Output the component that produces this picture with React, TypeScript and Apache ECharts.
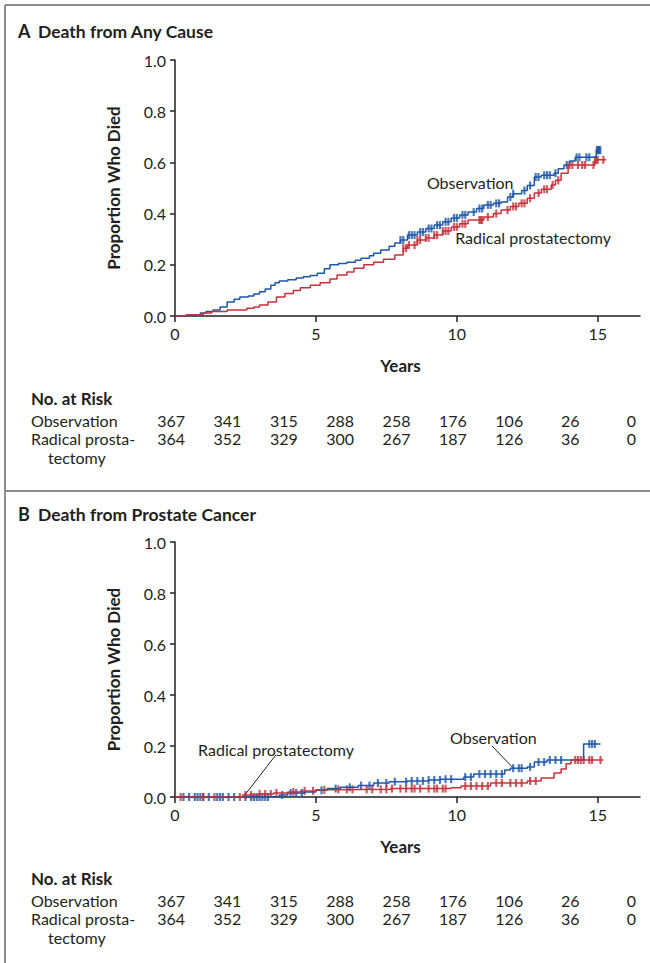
import React, { useEffect, useRef } from 'react';
import * as echarts from 'echarts';

const FONT = 'Lato, "Open Sans", sans-serif';
const BLUE = '#1d58a8';
const RED = '#c6313b';
const INK = '#231f20';
const BORDER = '#8c8c8c';

const xTickValues = [0, 5, 10, 15];
const riskYears = [0, 2, 4, 6, 8, 10, 12, 14, 16];
const riskObs = [367, 341, 315, 288, 258, 176, 106, 26, 0];
const riskRad = [364, 352, 329, 300, 267, 187, 126, 36, 0];

// Panel A: death from any cause
const obsA_t = [0, 0.6, 0.9, 1.1, 1.35, 1.6, 1.85, 2.1, 2.3, 2.6, 2.8, 3.0, 3.2, 3.4, 3.55, 3.7, 4.0, 4.3, 4.55, 4.8, 5.05, 5.3, 5.5, 5.8, 6.1, 6.4, 6.6, 6.9, 7.05, 7.3, 7.6, 7.8, 8.0, 8.25, 8.6, 8.9, 9.2, 9.5, 9.8, 10.1, 10.4, 10.7, 10.96, 11.3, 11.57, 11.8, 12.0, 12.3, 12.5, 12.75, 13.0, 13.45, 13.6, 13.8, 14.0, 14.2, 14.95];
const obsA_y = [0, 0.005, 0.012, 0.018, 0.023, 0.035, 0.055, 0.065, 0.074, 0.078, 0.086, 0.095, 0.105, 0.12, 0.13, 0.137, 0.142, 0.148, 0.153, 0.158, 0.167, 0.185, 0.2, 0.205, 0.21, 0.218, 0.226, 0.235, 0.245, 0.258, 0.272, 0.285, 0.297, 0.316, 0.328, 0.342, 0.355, 0.368, 0.383, 0.395, 0.406, 0.42, 0.434, 0.44, 0.445, 0.465, 0.478, 0.49, 0.51, 0.543, 0.55, 0.558, 0.575, 0.59, 0.605, 0.62, 0.648];
const obsA_end = 15.1;
const obsA_cens = [8.0, 8.1, 8.3, 8.4, 8.5, 8.7, 8.8, 9.0, 9.1, 9.3, 9.4, 9.6, 9.7, 9.9, 10.0, 10.2, 10.3, 10.6, 10.8, 10.9, 11.1, 11.2, 11.4, 11.5, 11.9, 12.0, 12.4, 12.6, 12.8, 12.9, 13.1, 13.2, 13.3, 13.5, 13.9, 14.25, 14.35, 14.6, 14.7, 14.97, 15.0, 15.03, 15.06, 15.09];

const radA_t = [0, 0.4, 1.0, 1.3, 1.85, 2.55, 2.8, 3.0, 3.3, 3.6, 3.9, 4.2, 4.45, 4.8, 5.15, 5.5, 5.75, 6.1, 6.35, 6.7, 7.05, 7.4, 7.8, 8.1, 8.25, 8.6, 8.9, 9.2, 9.5, 9.8, 10.1, 10.4, 10.96, 11.3, 11.57, 11.9, 12.2, 12.5, 12.75, 13.0, 13.35, 13.5, 13.7, 13.95, 14.9];
const radA_y = [0, 0.005, 0.012, 0.018, 0.023, 0.03, 0.035, 0.043, 0.055, 0.074, 0.088, 0.1, 0.11, 0.12, 0.13, 0.145, 0.16, 0.172, 0.187, 0.2, 0.21, 0.222, 0.238, 0.265, 0.277, 0.297, 0.305, 0.316, 0.332, 0.348, 0.36, 0.375, 0.387, 0.4, 0.414, 0.428, 0.44, 0.46, 0.48, 0.495, 0.512, 0.53, 0.558, 0.59, 0.61];
const radA_end = 15.3;
const radA_cens = [8.1, 8.2, 8.3, 8.5, 8.6, 8.7, 8.9, 9.0, 9.2, 9.3, 9.5, 9.6, 9.7, 9.9, 10.0, 10.2, 10.3, 10.8, 10.85, 10.9, 11.1, 11.4, 11.8, 12.0, 12.1, 12.3, 12.4, 12.6, 12.9, 13.1, 13.2, 13.4, 13.6, 14.0, 14.1, 14.3, 14.45, 14.55, 14.85, 14.9, 14.95, 15.0, 15.2];

// Panel B: death from prostate cancer
const obsB_t = [0, 3.7, 4.0, 4.6, 5.0, 5.4, 5.87, 6.5, 7.05, 7.6, 8.25, 9.0, 9.43, 10.25, 10.6, 11.7, 11.9, 12.5, 12.75, 13.2, 14.5];
const obsB_y = [0, 0.008, 0.016, 0.02, 0.026, 0.033, 0.038, 0.045, 0.055, 0.06, 0.063, 0.067, 0.07, 0.078, 0.09, 0.106, 0.113, 0.118, 0.137, 0.145, 0.208];
const obsB_end = 15.1;
const obsB_cens = [0.3, 0.5, 0.7, 0.8, 0.9, 1.0, 1.2, 1.5, 1.6, 1.7, 1.9, 2.1, 2.5, 2.7, 2.8, 2.9, 3.0, 3.1, 3.2, 3.3, 3.8, 4.1, 4.3, 4.5, 5.2, 5.7, 6.2, 6.6, 6.9, 7.2, 7.5, 7.8, 8.2, 8.4, 8.6, 8.8, 9.0, 9.2, 9.4, 9.6, 9.8, 10.3, 10.5, 10.8, 11.0, 11.2, 11.4, 11.6, 12.0, 12.2, 12.3, 12.6, 12.9, 13.1, 13.3, 13.5, 13.7, 14.7, 14.8, 14.9];

const radB_t = [0, 2.4, 3.0, 3.5, 4.0, 4.45, 5.0, 5.6, 7.65, 9.8, 10.15, 11.2, 12.5, 12.99, 13.45, 13.7, 13.88, 14.05];
const radB_y = [0, 0.008, 0.012, 0.016, 0.02, 0.024, 0.028, 0.03, 0.033, 0.036, 0.043, 0.055, 0.063, 0.075, 0.094, 0.11, 0.13, 0.145];
const radB_end = 15.2;
const radB_cens = [0.2, 1.0, 1.4, 2.3, 2.5, 2.7, 3.0, 3.2, 3.4, 3.6, 4.2, 4.6, 4.9, 5.3, 5.8, 6.1, 6.3, 6.8, 7.0, 7.3, 7.5, 7.7, 8.0, 8.2, 8.4, 8.5, 8.7, 9.0, 9.2, 9.3, 9.5, 9.6, 10.3, 10.5, 10.7, 10.9, 11.1, 11.4, 11.6, 11.9, 12.1, 12.3, 12.6, 12.8, 14.2, 14.3, 14.4, 14.5, 14.7, 14.8, 15.1];

function stepData(t: number[], y: number[], end: number) {
  const d = t.map((ti, i) => [ti, y[i]]);
  d.push([end, y[y.length - 1]]);
  return d;
}
function censorData(c: number[], t: number[], y: number[]) {
  return c.map((ci) => {
    let v = y[0];
    for (let i = 0; i < t.length; i++) if (t[i] <= ci) v = y[i];
    return [ci, v];
  });
}

const mkX = (gi: number) => ({
  gridIndex: gi,
  type: 'value',
  min: 0,
  max: 16.5,
  interval: 5,
  axisLine: { show: true, onZero: false, lineStyle: { color: INK, width: 1.5 } },
  axisTick: { show: true, length: 6, customValues: xTickValues, lineStyle: { color: INK, width: 1.5 } },
  axisLabel: { customValues: xTickValues, fontSize: 16, color: INK, fontFamily: FONT, margin: 9 },
  splitLine: { show: false },
  name: 'Years',
  nameLocation: 'middle',
  nameGap: 41,
  nameTextStyle: { fontSize: 17, fontWeight: 'bold', color: INK, fontFamily: FONT, padding: [0, 14, 0, 0] },
});
const mkY = (gi: number) => ({
  gridIndex: gi,
  type: 'value',
  min: 0,
  max: 1,
  interval: 0.2,
  axisLine: { show: true, onZero: false, lineStyle: { color: INK, width: 1.5 } },
  axisTick: { show: true, length: 5, lineStyle: { color: INK, width: 1.5 } },
  axisLabel: { fontSize: 16, color: INK, fontFamily: FONT, margin: 9, formatter: (v: number) => v.toFixed(1) },
  splitLine: { show: false },
  name: 'Proportion Who Died',
  nameLocation: 'middle',
  nameGap: 53,
  nameRotate: 90,
  nameTextStyle: { fontSize: 17, fontWeight: 'bold', color: INK, fontFamily: FONT },
});

const lineSeries = (gi: number, data: number[][], color: string) => ({
  type: 'line',
  xAxisIndex: gi,
  yAxisIndex: gi,
  step: 'end',
  data,
  showSymbol: false,
  symbol: 'none',
  lineStyle: { color, width: 1.5 },
  silent: true,
});
const censSeries = (gi: number, data: number[][], color: string) => ({
  type: 'scatter',
  xAxisIndex: gi,
  yAxisIndex: gi,
  data,
  symbol: 'rect',
  symbolSize: [2.2, 8],
  itemStyle: { color },
  silent: true,
});

export default function App() {
  const ref = useRef<HTMLDivElement>(null);
  useEffect(() => {
    document.body.style.margin = '0';
    const chart = echarts.init(ref.current!, null, { renderer: 'svg' });
    chart.setOption({
      animation: false,
      grid: [
        { left: 175, top: 60, width: 465, height: 256 },
        { left: 175, top: 542, width: 465, height: 255 },
      ],
      xAxis: [mkX(0), mkX(1)],
      yAxis: [mkY(0), mkY(1)],
      series: [
        lineSeries(0, stepData(obsA_t, obsA_y, obsA_end), BLUE),
        censSeries(0, censorData(obsA_cens, obsA_t, obsA_y), BLUE),
        lineSeries(0, stepData(radA_t, radA_y, radA_end), RED),
        censSeries(0, censorData(radA_cens, radA_t, radA_y), RED),
        lineSeries(1, stepData(obsB_t, obsB_y, obsB_end), BLUE),
        censSeries(1, censorData(obsB_cens, obsB_t, obsB_y), BLUE),
        lineSeries(1, stepData(radB_t, radB_y, radB_end), RED),
        censSeries(1, censorData(radB_cens, radB_t, radB_y), RED),
      ],
    });

    const px = (gi: number, x: number, y: number) => chart.convertToPixel({ gridIndex: gi } as any, [x, y]) as number[];
    const txt = (x: number, y: number, text: string, opts: any = {}) => ({
      type: 'text',
      x,
      y,
      style: {
        text,
        fill: INK,
        fontSize: 16,
        fontFamily: FONT,
        textAlign: 'left',
        textVerticalAlign: 'middle',
        ...opts,
      },
    });

    const g: any[] = [
      { type: 'line', shape: { x1: 5, y1: 5, x2: 650, y2: 5 }, style: { stroke: BORDER, lineWidth: 2 } },
      { type: 'line', shape: { x1: 5, y1: 5, x2: 5, y2: 963 }, style: { stroke: BORDER, lineWidth: 2 } },
      { type: 'line', shape: { x1: 5, y1: 491, x2: 650, y2: 491 }, style: { stroke: BORDER, lineWidth: 2 } },
    ];
    const panels = [
      { gi: 0, letter: 'A', title: 'Death from Any Cause', titleY: 31, tableY: 398 },
      { gi: 1, letter: 'B', title: 'Death from Prostate Cancer', titleY: 514, tableY: 878 },
    ];
    panels.forEach((p) => {
      g.push(txt(18, p.titleY, p.letter, { fontSize: 18, fontWeight: 'bold' }));
      g.push(txt(38, p.titleY, p.title, { fontSize: 17.5, fontWeight: 'bold' }));
      g.push(txt(31, p.tableY, 'No. at Risk', { fontSize: 17, fontWeight: 'bold' }));
      g.push(txt(31, p.tableY + 22, 'Observation'));
      g.push(txt(31, p.tableY + 40, 'Radical prosta-'));
      g.push(txt(48, p.tableY + 59, 'tectomy'));
      riskYears.forEach((yr, i) => {
        const xx = px(p.gi, yr, 0)[0] + 10;
        g.push(txt(xx, p.tableY + 22, String(riskObs[i]), { textAlign: 'right' }));
        g.push(txt(xx, p.tableY + 40, String(riskRad[i]), { textAlign: 'right' }));
      });
    });
    // Panel A curve labels
    let a = px(0, 8.94, 0.52);
    g.push(txt(a[0], a[1], 'Observation'));
    a = px(0, 9.94, 0.305);
    g.push(txt(a[0], a[1], 'Radical prostatectomy'));
    // Panel B curve labels with leader lines
    a = px(1, 0.82, 0.188);
    g.push(txt(a[0], a[1], 'Radical prostatectomy'));
    let l1 = px(1, 3.58, 0.165);
    let l2 = px(1, 2.48, 0.008);
    g.push({ type: 'line', shape: { x1: l1[0], y1: l1[1], x2: l2[0], y2: l2[1] }, style: { stroke: INK, lineWidth: 1 } });
    a = px(1, 9.76, 0.235);
    g.push(txt(a[0], a[1], 'Observation'));
    l1 = px(1, 11.25, 0.2);
    l2 = px(1, 12.0, 0.114);
    g.push({ type: 'line', shape: { x1: l1[0], y1: l1[1], x2: l2[0], y2: l2[1] }, style: { stroke: INK, lineWidth: 1 } });

    chart.setOption({ graphic: g });
    return () => chart.dispose();
  }, []);
  return <div ref={ref} style={{ width: 650, height: 963 }} />;
}
